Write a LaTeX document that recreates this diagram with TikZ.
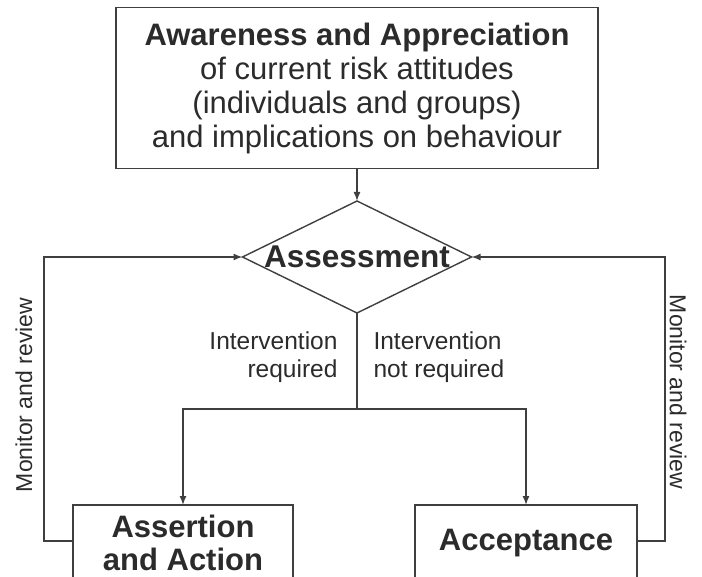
\documentclass[tikz,border=0pt]{standalone}
\usepackage{fontspec}
\setmainfont{Liberation Sans}
\usetikzlibrary{arrows.meta,shapes.geometric}
\definecolor{ink}{HTML}{2B2B2B}
\definecolor{rule}{HTML}{3F3F3F}
\begin{document}
\begin{tikzpicture}[x=1pt,y=-1pt,
  box/.style={draw=rule,line width=1.4pt,fill=white,outer sep=0pt,inner sep=0pt,text=ink,align=center},
  arr/.style={draw=rule,line width=1.4pt,-{Latex[length=9pt,width=7pt]}},
  link/.style={draw=rule,line width=1.4pt},
  big/.style={font=\fontsize{31}{33}\selectfont},
  small/.style={font=\fontsize{24.5}{28}\selectfont,text=ink},
  side/.style={font=\fontsize{23}{26}\selectfont,text=ink}]
\useasboundingbox (0,0) rectangle (702,577);

% top statement box
\node[box,font=\fontsize{31}{34}\selectfont,minimum width=482pt,minimum height=161pt] (aware) at (357,88)
  {\textbf{Awareness and Appreciation}\\of current risk attitudes\\(individuals and groups)\\and implications on behaviour};

% decision diamond
\node[diamond,draw=rule,line width=1.4pt,inner sep=0pt,outer sep=0pt,
  minimum width=229pt,minimum height=112pt] (assess) at (357,257) {};
\node[text=ink,font=\fontsize{31.5}{34}\selectfont\bfseries] (assesstxt) at (assess) {Assessment};

% outcome boxes
\node[box,big,minimum width=220pt,minimum height=76pt] (assert) at (183,543)
  {\textbf{Assertion}\\\textbf{and Action}};
\node[box,big,minimum width=222pt,minimum height=76pt] (accept) at (526,543)
  {\textbf{Acceptance}};

% branch labels
\node[small,align=right,anchor=east] (lblreq) at (341,357) {Intervention\\required};
\node[small,align=left,anchor=west] (lblnot) at (370,357) {Intervention\\not required};

% side labels
\node[side,rotate=90] (monl) at (24,395) {Monitor and review};
\node[side,rotate=-90] (monr) at (678,392) {Monitor and review};

% connectors
\draw[arr] (aware.south) -- (assess.north);
\draw[link] (assess.south) -- (357,409) coordinate (split);
\draw[arr] (split) -| (assert.north);
\draw[arr] (split) -| (accept.north);
\draw[arr] ([yshift=2pt]assert.west) -- ++(-29,0) |- (assess.west);
\draw[arr] ([yshift=2pt]accept.east) -- ++(28,0) |- (assess.east);
\end{tikzpicture}
\end{document}
